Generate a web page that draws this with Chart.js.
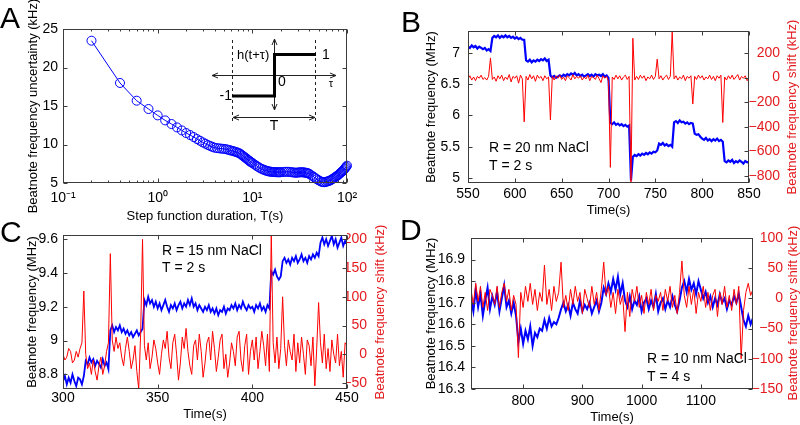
<!DOCTYPE html>
<html>
<head>
<meta charset="utf-8">
<script src="https://cdn.jsdelivr.net/npm/chart.js@4.4.1/dist/chart.umd.min.js"></script>
<style>
  html, body { margin: 0; padding: 0; background: #fff; }
  #wrap { position: relative; width: 800px; height: 425px; }
  #wrap canvas { position: absolute; left: 0; top: 0; }
</style>
</head>
<body>
<div id="wrap">
  <canvas id="panelA" width="800" height="425"></canvas>
  <canvas id="panelB" width="800" height="425"></canvas>
  <canvas id="panelC" width="800" height="425"></canvas>
  <canvas id="panelD" width="800" height="425"></canvas>
</div>
<script>
// ---- panel A: uncertainty vs step function duration
const stepDurations = [0.2, 0.4, 0.6, 0.8, 1, 1.2, 1.4, 1.6, 1.8, 2, 2.2, 2.4, 2.6, 2.8, 3, 3.2, 3.4, 3.6, 3.8, 4,
  4.25, 4.5, 4.75, 5, 5.25, 5.5, 5.75, 6, 6.25, 6.5, 6.75, 7, 7.25, 7.5, 7.75, 8, 8.25, 8.5, 8.75, 9, 9.25, 9.5, 9.75, 10,
  10.5, 11, 11.5, 12, 12.5, 13, 13.5, 14, 14.5, 15, 15.5, 16, 16.5, 17, 17.5, 18, 18.5, 19, 19.5, 20,
  21, 22, 23, 24, 25, 26, 27, 28, 29, 30, 31, 32, 33, 34, 35, 36, 37, 38, 39, 40,
  42, 44, 46, 48, 50, 52, 54, 56, 58, 60, 62, 64, 66, 68, 70, 72, 74, 76, 78, 80,
  82, 84, 86, 88, 90, 92, 94, 96, 98, 100];
const uncertaintyA = [23.48, 17.99, 15.69, 14.61, 13.78, 13.13, 12.66, 12.22, 11.83, 11.49, 11.23, 10.97, 10.71, 10.49, 10.27, 10.1, 9.93, 9.8, 9.68, 9.58,
  9.53, 9.49, 9.46, 9.43, 9.39, 9.33, 9.27, 9.2, 9.15, 9.08, 9.02, 8.95, 8.88, 8.77, 8.63, 8.5, 8.38, 8.25, 8.13, 8.0, 7.9, 7.78, 7.69, 7.6,
  7.42, 7.25, 7.1, 6.95, 6.85, 6.75, 6.67, 6.6, 6.55, 6.5, 6.47, 6.45, 6.43, 6.42, 6.41, 6.4, 6.4, 6.39, 6.4, 6.4,
  6.42, 6.45, 6.46, 6.45, 6.43, 6.4, 6.37, 6.35, 6.34, 6.35, 6.37, 6.39, 6.4, 6.39, 6.37, 6.35, 6.32, 6.29, 6.25, 6.18,
  6.0, 5.84, 5.67, 5.5, 5.36, 5.25, 5.15, 5.11, 5.1, 5.15, 5.2, 5.25, 5.32, 5.4, 5.5, 5.6, 5.7, 5.8, 5.9, 6.0,
  6.12, 6.24, 6.35, 6.45, 6.55, 6.68, 6.82, 6.97, 7.1, 7.25];
const ticksAx = [0.1, 1, 10, 100];
const minorAx = [0.2, 0.3, 0.4, 0.5, 0.6, 0.7, 0.8, 0.9, 2, 3, 4, 5, 6, 7, 8, 9, 20, 30, 40, 50, 60, 70, 80, 90];
const ticksAy = [5, 10, 15, 20, 25];

// ---- panel B: R = 20 nm, samples every 2 s from 550 s
const beatB = [7.10, 7.08, 7.12, 7.09, 7.11, 7.07, 7.10, 7.08, 7.06, 7.08,
  7.04, 7.06, 7.03, 7.24, 7.27, 7.25, 7.28, 7.24, 7.27, 7.25,
  7.28, 7.25, 7.27, 7.24, 7.26, 7.23, 7.25, 7.22, 7.24, 7.21,
  7.21, 6.88, 6.86, 6.89, 6.85, 6.88, 6.86, 6.89, 6.87, 6.90,
  6.88, 6.91, 6.87, 6.89, 6.64, 6.61, 6.63, 6.60, 6.62, 6.64,
  6.62, 6.65, 6.63, 6.66, 6.64, 6.67, 6.65, 6.68, 6.64, 6.66,
  6.63, 6.65, 6.62, 6.64, 6.66, 6.63, 6.65, 6.62, 6.66, 6.64,
  6.65, 6.63, 6.66, 6.62, 6.64, 6.60, 5.88, 5.86, 5.89, 5.85,
  5.87, 5.84, 5.86, 5.83, 5.85, 5.82, 5.84, 4.96, 5.34, 5.37,
  5.35, 5.38, 5.36, 5.39, 5.37, 5.40, 5.38, 5.41, 5.39, 5.42,
  5.41, 5.44, 5.55, 5.53, 5.56, 5.52, 5.54, 5.51, 5.53, 5.50,
  5.89, 5.91, 5.88, 5.92, 5.89, 5.90, 5.87, 5.89, 5.86, 5.88,
  5.87, 5.71, 5.69, 5.70, 5.66, 5.63, 5.61, 5.64, 5.60, 5.62,
  5.59, 5.62, 5.60, 5.63, 5.59, 5.61, 5.58, 5.27, 5.25, 5.28,
  5.26, 5.29, 5.24, 5.27, 5.25, 5.28, 5.26, 5.23, 5.27, 5.25, 5.26];
const shiftB = [-10, 15, -20, 5, -25, 10, -5, 20, -15, 0,
  -20, 10, 160, -15, 5, -30, 15, -10, 20, -25,
  5, -15, 25, -35, 10, -5, 15, -45, 20, -10,
  -360, 10, -20, 25, -10, 15, -30, 20, -5, 10,
  -25, 15, -10, 5, -345, 10, -20, 15, -5, 20,
  -15, 5, -25, 15, 0, -20, 25, -10, 10, -5,
  15, -20, 5, -10, 20, -25, 10, 0, -15, 20,
  -10, -40, 15, -5, 10, -30, -730, 5, -15, 20,
  -10, 15, -20, 5, 20, -15, 10, -860, 320, -20,
  10, -15, 20, -5, 15, -25, 5, -10, 20, -15,
  10, 150, -10, 15, -20, 5, 20, -15, 10, 370,
  -10, 15, -20, 5, -10, 20, -25, 10, -5, 15,
  -215, 10, -15, 20, -5, 15, -20, 5, -10, 20,
  -15, 10, -25, 15, -5, 20, -365, 5, -20, 15,
  -10, 20, -15, 5, 25, -20, 10, -5, 15, -25, 0];
const ticksBx = [550, 600, 650, 700, 750, 800, 850];
const ticksBy = [5, 5.5, 6, 6.5, 7];
const ticksBy2 = [-800, -600, -400, -200, 0, 200];

// ---- panel C: R = 15 nm, samples every 1 s from 300 s
const beatC = [8.76, 8.79, 8.74, 8.78, 8.75, 8.80, 8.76, 8.73, 8.78, 8.77,
  8.74, 8.79, 8.88, 8.86, 8.90, 8.87, 8.89, 8.85, 8.88, 8.86,
  8.84, 8.89, 8.85, 8.87, 8.83, 9.06, 9.09, 9.05, 9.08, 9.06,
  9.09, 9.05, 9.07, 9.04, 9.06, 9.03, 9.05, 9.02, 9.04, 9.06,
  9.03, 9.05, 9.07, 9.24, 9.21, 9.26, 9.22, 9.24, 9.20, 9.23,
  9.19, 9.22, 9.18, 9.21, 9.24, 9.20, 9.17, 9.21, 9.19, 9.22,
  9.18, 9.21, 9.23, 9.19, 9.22, 9.20, 9.24, 9.21, 9.25, 9.20,
  9.22, 9.18, 9.21, 9.19, 9.17, 9.20, 9.18, 9.21, 9.17, 9.19,
  9.16, 9.19, 9.15, 9.18, 9.17, 9.20, 9.16, 9.19, 9.18, 9.21,
  9.19, 9.22, 9.18, 9.21, 9.19, 9.23, 9.20, 9.18, 9.21, 9.19,
  9.20, 9.17, 9.21, 9.19, 9.22, 9.18, 9.20, 9.17, 9.21, 9.19,
  9.41, 9.39, 9.42, 9.38, 9.36, 9.38, 9.47, 9.49, 9.46, 9.48,
  9.45, 9.49, 9.47, 9.50, 9.46, 9.48, 9.51, 9.47, 9.49, 9.46,
  9.50, 9.48, 9.51, 9.49, 9.52, 9.50, 9.58, 9.61, 9.57, 9.60,
  9.56, 9.59, 9.62, 9.57, 9.60, 9.55, 9.58, 9.61, 9.56, 9.59, 9.57];
const shiftC = [0, -10, -5, 10, 5, -15, -10, 5, -5, 10,
  20, 110, 0, -25, -15, -35, -10, -30, -45, -20,
  -5, -35, -20, 5, 20, 175, 25, 5, 30, 10,
  20, -5, -20, 10, 30, 5, -25, -10, 15, -30,
  -60, 35, 200, 15, -10, 20, -25, -5, 25, 10,
  -15, -35, 0, 25, 10, 40, -5, -25, 20, 35,
  0, -45, -15, 30, 10, 45, 5, -20, -35, 15,
  25, -10, 35, 5, -40, -15, 20, 30, -10, 40,
  10, -30, -5, 25, 35, -25, 0, -40, -15, 20,
  5, -20, 30, 40, -10, -30, 15, 35, -35, 5,
  25, -10, 30, -25, 5, 40, 15, -20, 35, -30,
  210, 20, -15, 30, -25, 10, 100, 15, -20, 25,
  5, -10, 35, -30, 20, -15, 30, 0, -35, 25,
  15, -20, 30, -55, 10, 90, 20, -15, 35, -25,
  10, -30, 25, 0, -15, 35, -20, 5, -40, 20, 15];
const ticksCx = [300, 350, 400, 450];
const ticksCy = [8.8, 9, 9.2, 9.4, 9.6];
const ticksCy2 = [-50, 0, 50, 100, 150, 200];

// ---- panel D: R = 10 nm, samples every 4 s from 712 s
const beatD = [16.72, 16.66, 16.76, 16.68, 16.74, 16.64, 16.71, 16.77, 16.67, 16.73,
  16.69, 16.75, 16.66, 16.72, 16.78, 16.68, 16.71, 16.65, 16.70, 16.64,
  16.52, 16.58, 16.51, 16.57, 16.53, 16.59, 16.50, 16.56, 16.54, 16.58,
  16.57, 16.62, 16.58, 16.63, 16.59, 16.61, 16.60, 16.63, 16.67, 16.70,
  16.66, 16.69, 16.64, 16.70, 16.67, 16.65, 16.71, 16.66, 16.69, 16.67,
  16.70, 16.65, 16.68, 16.71, 16.66, 16.70, 16.77, 16.74, 16.79, 16.75,
  16.81, 16.76, 16.82, 16.74, 16.79, 16.71, 16.68, 16.73, 16.67, 16.71,
  16.69, 16.73, 16.66, 16.70, 16.72, 16.67, 16.71, 16.68, 16.74, 16.66,
  16.70, 16.72, 16.67, 16.71, 16.68, 16.73, 16.69, 16.66, 16.71, 16.77,
  16.80, 16.75, 16.81, 16.76, 16.79, 16.74, 16.80, 16.76, 16.72, 16.75,
  16.70, 16.73, 16.68, 16.72, 16.69, 16.74, 16.70, 16.72, 16.67, 16.71,
  16.69, 16.73, 16.70, 16.74, 16.68, 16.62, 16.59, 16.64, 16.60, 16.63];
const shiftD = [15, -10, 25, -5, 20, -15, 10, -20, 15, 5,
  -10, 20, -15, 10, 25, -5, 15, -20, 5, -10,
  -98, 10, -15, 20, -5, 25, -10, 15, -20, 10,
  -5, 55, -10, 15, -20, 20, -5, 10, 60, -15,
  5, -20, 15, -10, 20, -5, 10, -25, 15, 0,
  -15, 20, -10, 10, -20, 15, 60, 5, 20, -15,
  10, -25, 15, -10, 5, -55, 10, -30, 15, -5,
  20, -15, 5, -25, 10, -10, 15, -20, 5, -5,
  10, -20, 15, -5, 20, -15, 5, -25, 10, 62,
  5, -15, 20, -10, 15, -25, 10, -5, 20, -15,
  10, -20, 5, 15, -30, 10, -10, 20, -15, 5,
  -20, 15, -10, 20, -100, -20, 10, 25, 5, 15];
const ticksDx = [800, 900, 1000, 1100];
const ticksDy = [16.3, 16.4, 16.5, 16.6, 16.7, 16.8, 16.9];
const ticksDy2 = [-150, -100, -50, 0, 50, 100];

const timeB = beatB.map((_, i) => 550 + 2 * i);
const timeC = beatC.map((_, i) => 300 + i);
const timeD = beatD.map((_, i) => 712 + 4 * i);

const FONT = "'Liberation Sans', Arial, Helvetica, sans-serif";
const BLUE = '#0000ff';
const RED = '#ff0000';
const RED_TEXT = '#e31b1f';
const AXIS = '#3c3c3c';

Chart.defaults.font.family = FONT;
Chart.defaults.color = '#000';

const fixedWidth = w => s => { s.width = w; };
const fixedHeight = h => s => { s.height = h; };
const setTicks = values => s => { s.ticks = values.map(v => ({ value: v })); };
const num = v => (v < 0 ? '\u2212' + Math.abs(v) : String(v));
const pow10 = { 0.1: '10\u207B\u00B9', 1: '10\u2070', 10: '10\u00B9', 100: '10\u00B2' };

// box, inward ticks and free texts, in the MATLAB look
function frame(o) {
  return {
    id: 'frame',
    afterDraw(chart) {
      const { ctx, chartArea: a, scales } = chart;
      ctx.save();
      ctx.strokeStyle = AXIS;
      ctx.lineWidth = 1;
      const L = Math.round(a.left) + 0.5, R = Math.round(a.right) - 0.5;
      const T = Math.round(a.top) + 0.5, B = Math.round(a.bottom) - 0.5;
      ctx.strokeRect(L, T, R - L, B - T);
      ctx.beginPath();
      const xt = (v, len) => {
        const p = Math.round(scales.x.getPixelForValue(v)) + 0.5;
        ctx.moveTo(p, B); ctx.lineTo(p, B - len);
        ctx.moveTo(p, T); ctx.lineTo(p, T + len);
      };
      (o.xTicks || []).forEach(v => xt(v, 4));
      (o.xMinor || []).forEach(v => xt(v, 2));
      (o.yTicks || []).forEach(v => {
        const p = Math.round(scales.y.getPixelForValue(v)) + 0.5;
        ctx.moveTo(L, p); ctx.lineTo(L + 4, p);
        if (o.yBoth) { ctx.moveTo(R, p); ctx.lineTo(R - 4, p); }
      });
      (o.y2Ticks || []).forEach(v => {
        const p = Math.round(scales.y2.getPixelForValue(v)) + 0.5;
        ctx.moveTo(R, p); ctx.lineTo(R - 4, p);
      });
      ctx.stroke();
      (o.texts || []).forEach(t => {
        ctx.font = t.font;
        ctx.fillStyle = t.color || '#000';
        ctx.textAlign = t.align || 'left';
        ctx.textBaseline = t.baseline || 'middle';
        if (t.rot) {
          ctx.save();
          ctx.translate(t.x, t.y);
          ctx.rotate(t.rot);
          ctx.fillText(t.text, 0, 0);
          ctx.restore();
        } else {
          ctx.fillText(t.text, t.x, t.y);
        }
      });
      ctx.restore();
    }
  };
}

function arrowHeads(ctx, x1, y1, x2, y2) {
  const len = Math.hypot(x2 - x1, y2 - y1);
  const ux = (x2 - x1) / len, uy = (y2 - y1) / len;
  const h = 6, w = 2.5;
  ctx.moveTo(x1, y1); ctx.lineTo(x2, y2);
  ctx.moveTo(x2 - ux * h + uy * w, y2 - uy * h - ux * w); ctx.lineTo(x2, y2); ctx.lineTo(x2 - ux * h - uy * w, y2 - uy * h + ux * w);
  ctx.moveTo(x1 + ux * h + uy * w, y1 + uy * h - ux * w); ctx.lineTo(x1, y1); ctx.lineTo(x1 + ux * h - uy * w, y1 + uy * h + ux * w);
}

// the step function sketch in panel A
const insetPlugin = {
  id: 'inset',
  afterDraw(chart) {
    const ctx = chart.ctx;
    ctx.save();
    ctx.strokeStyle = '#222';
    ctx.lineWidth = 1;
    ctx.beginPath();
    arrowHeads(ctx, 212, 75.5, 336, 75.5);
    arrowHeads(ctx, 274.5, 39, 274.5, 110);
    arrowHeads(ctx, 233, 117.5, 315, 117.5);
    ctx.stroke();
    ctx.setLineDash([3, 3]);
    ctx.beginPath();
    ctx.moveTo(232.5, 40); ctx.lineTo(232.5, 123);
    ctx.moveTo(315.5, 40); ctx.lineTo(315.5, 123);
    ctx.stroke();
    ctx.setLineDash([]);
    ctx.strokeStyle = '#000';
    ctx.lineWidth = 3;
    ctx.beginPath();
    ctx.moveTo(232, 96); ctx.lineTo(274.5, 96); ctx.lineTo(274.5, 54.5); ctx.lineTo(316, 54.5);
    ctx.stroke();
    ctx.fillStyle = '#000';
    ctx.textBaseline = 'middle';
    ctx.font = '13px ' + FONT;
    ctx.textAlign = 'left';
    ctx.fillText('h(t+\u03C4)', 237, 55);
    ctx.font = '14px ' + FONT;
    ctx.fillText('1', 322, 55);
    ctx.fillText('0', 278, 82);
    ctx.textAlign = 'right';
    ctx.fillText('-1', 232, 96);
    ctx.textAlign = 'center';
    ctx.fillText('T', 274, 126);
    ctx.font = '11px ' + FONT;
    ctx.fillText('\u03C4', 331, 84);
    ctx.restore();
  }
};

const tickFont = { size: 14 };
const titleFont = { size: 13 };
const noGrid = { display: false, drawTicks: false };

// panel A
new Chart(document.getElementById('panelA'), {
  type: 'line',
  data: {
    datasets: [{
      data: stepDurations.map((x, i) => ({ x, y: uncertaintyA[i] })),
      borderColor: BLUE,
      borderWidth: 1,
      pointRadius: 4.5,
      pointBorderWidth: 1,
      pointBorderColor: BLUE,
      pointBackgroundColor: 'rgba(255,255,255,0)',
      clip: 8
    }]
  },
  options: {
    responsive: false,
    animation: false,
    events: [],
    layout: { padding: { left: 26, right: 453, top: 29, bottom: 201 } },
    plugins: { legend: { display: false }, tooltip: { enabled: false } },
    scales: {
      x: {
        type: 'logarithmic', min: 0.1, max: 100,
        afterBuildTicks: setTicks(ticksAx), afterFit: fixedHeight(41),
        grid: noGrid, border: { display: false },
        ticks: { autoSkip: false, maxRotation: 0, padding: 7, font: tickFont, callback: v => pow10[v] },
        title: { display: true, text: 'Step function duration, T(s)', font: titleFont, padding: 0 }
      },
      y: {
        min: 5, max: 25,
        afterBuildTicks: setTicks(ticksAy), afterFit: fixedWidth(37),
        grid: noGrid, border: { display: false },
        ticks: { padding: 5, font: tickFont, callback: v => num(v) },
        title: { display: true, text: 'Beatnote frequency uncertainty (kHz)', font: titleFont, padding: 0 }
      }
    }
  },
  plugins: [frame({
    xTicks: ticksAx, xMinor: minorAx, yTicks: ticksAy, yBoth: true,
    texts: [{ text: 'A', x: 0, y: 28, font: '30px ' + FONT, baseline: 'alphabetic' }]
  }), insetPlugin]
});

// panels B, C, D share the same two-axis layout
function timePanel(id, p) {
  return new Chart(document.getElementById(id), {
    type: 'line',
    data: {
      datasets: [{
        data: p.time.map((x, i) => ({ x, y: p.shift[i] })),
        yAxisID: 'y2', borderColor: RED, borderWidth: 1, pointRadius: 0, order: 0
      }, {
        data: p.time.map((x, i) => ({ x, y: p.beat[i] })),
        yAxisID: 'y', borderColor: BLUE, borderWidth: p.blueWidth, pointRadius: 0, order: 1
      }]
    },
    options: {
      responsive: false,
      animation: false,
      events: [],
      layout: { padding: p.pad },
      plugins: { legend: { display: false }, tooltip: { enabled: false } },
      scales: {
        x: {
          type: 'linear', min: p.xr[0], max: p.xr[1],
          afterBuildTicks: setTicks(p.xt), afterFit: fixedHeight(p.xh),
          grid: noGrid, border: { display: false },
          ticks: { autoSkip: false, maxRotation: 0, padding: p.xpad, font: tickFont, callback: v => num(v) },
          title: { display: true, text: 'Time(s)', font: titleFont, padding: 0 }
        },
        y: {
          position: 'left', min: p.yr[0], max: p.yr[1],
          afterBuildTicks: setTicks(p.yt), afterFit: fixedWidth(p.yw),
          grid: noGrid, border: { display: false },
          ticks: { padding: p.ypad, font: tickFont, callback: v => num(v) },
          title: { display: true, text: 'Beatnote frequency (MHz)', font: titleFont, padding: 0 }
        },
        y2: {
          position: 'right', min: p.y2r[0], max: p.y2r[1],
          afterBuildTicks: setTicks(p.y2t), afterFit: fixedWidth(p.y2w),
          grid: noGrid, border: { display: false },
          ticks: { crossAlign: 'far', color: RED_TEXT, font: tickFont, callback: v => num(v) }
        }
      }
    },
    plugins: [frame({
      xTicks: p.xt, yTicks: p.yt, y2Ticks: p.y2t,
      texts: [
        { text: p.letter, x: p.letterAt[0], y: p.letterAt[1], font: '30px ' + FONT, baseline: 'alphabetic' },
        { text: 'Beatnote frequency shift (kHz)', x: p.rTitle[0], y: p.rTitle[1], font: '13px ' + FONT, color: RED_TEXT, align: 'center', rot: -Math.PI / 2 },
        { text: p.note[0], x: p.noteAt[0], y: p.noteAt[1], font: '14px ' + FONT },
        { text: p.note[1], x: p.noteAt[0], y: p.noteAt[2], font: '14px ' + FONT }
      ]
    })]
  });
}

timePanel('panelB', {
  time: timeB, beat: beatB, shift: shiftB, blueWidth: 2.2,
  xr: [550, 850], xt: ticksBx, yr: [4.92, 7.35], yt: ticksBy, y2r: [-857, 379], y2t: ticksBy2,
  pad: { left: 424, right: 20, top: 31, bottom: 207 }, xh: 35, xpad: 3, yw: 44, ypad: 8, y2w: 31,
  letter: 'B', letterAt: [401, 32], rTitle: [792, 107],
  note: ['R = 20 nm NaCl', 'T = 2 s'], noteAt: [489, 148, 166]
});

timePanel('panelC', {
  time: timeC, beat: beatC, shift: shiftC, blueWidth: 1.8,
  xr: [300, 450], xt: ticksCx, yr: [8.713, 9.625], yt: ticksCy, y2r: [-60.4, 207.5], y2t: ticksCy2,
  pad: { left: 25, right: 433, top: 235, bottom: 3 }, xh: 33, xpad: 1, yw: 38, ypad: 5, y2w: 20,
  letter: 'C', letterAt: [0, 242], rTitle: [380, 312],
  note: ['R = 15 nm NaCl', 'T = 2 s'], noteAt: [162, 251, 268]
});

timePanel('panelD', {
  time: timeD, beat: beatD, shift: shiftD, blueWidth: 2,
  xr: [712, 1188], xt: ticksDx, yr: [16.3, 17.0], yt: ticksDy, y2r: [-150, 100], y2t: ticksDy2,
  pad: { left: 424, right: 17, top: 238, bottom: 0 }, xh: 36, xpad: 4, yw: 47, ypad: 6, y2w: 30,
  letter: 'D', letterAt: [400, 240], rTitle: [793, 313],
  note: ['R = 10 nm NaCl', 'T = 4 s'], noteAt: [647, 359, 377]
});
</script>
</body>
</html>
